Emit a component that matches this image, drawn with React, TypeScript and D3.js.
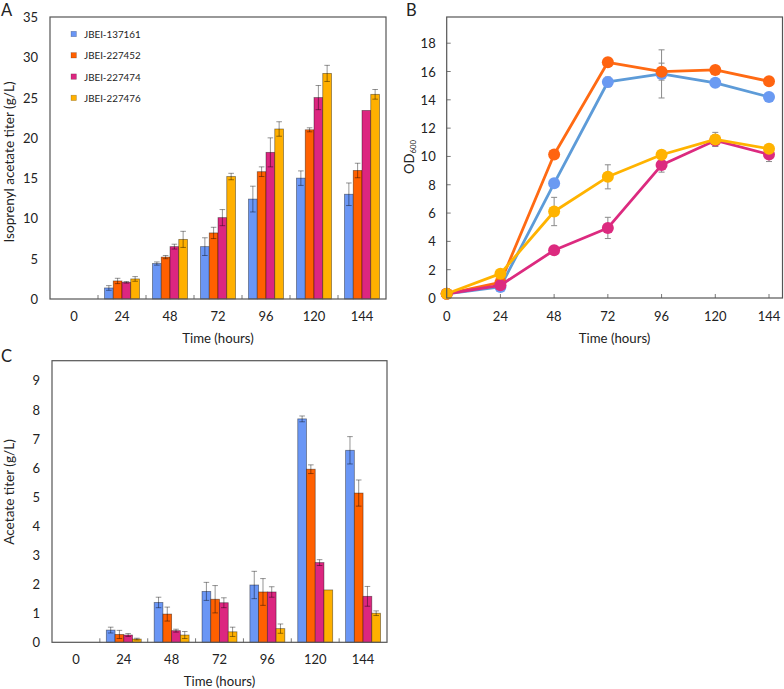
import React from "react";
import * as d3 from "d3";

const categories = ["0", "24", "48", "72", "96", "120", "144"];
const series = ["JBEI-137161", "JBEI-227452", "JBEI-227474", "JBEI-227476"];
const barColors = ["#6a96f5", "#ff6000", "#dc2680", "#ffb000"];
const lineColors = ["#5d9bd8", "#ff6a13", "#dc2a7f", "#ffb300"];
const markerColors = ["#6a9af2", "#ff6410", "#dc2a7f", "#ffb300"];

// Panel A: isoprenyl acetate titer (g/L)
const isoVals = [
  [0, 1.37, 4.4, 6.5, 12.4, 15.0, 13.0],
  [0, 2.24, 5.2, 8.2, 15.8, 21.0, 15.95],
  [0, 2.07, 6.5, 10.1, 18.2, 25.0, 23.4],
  [0, 2.49, 7.4, 15.2, 21.1, 28.0, 25.4],
];
const isoErr = [
  [0, 0.29, 0.2, 1.1, 1.6, 0.9, 1.4],
  [0, 0.33, 0.2, 0.7, 0.6, 0.25, 0.9],
  [0, 0.1, 0.3, 1.0, 1.8, 1.5, 0],
  [0, 0.29, 1.0, 0.4, 0.9, 1.0, 0.6],
];
const isoTicks = [0, 5, 10, 15, 20, 25, 30, 35];

// Panel B: OD600
const odVals = [
  [0.3, 0.78, 8.1, 15.26, 15.83, 15.2, 14.2],
  [0.3, 1.1, 10.14, 16.65, 15.99, 16.11, 15.31],
  [0.3, 0.9, 3.37, 4.95, 9.39, 11.13, 10.14],
  [0.3, 1.72, 6.11, 8.56, 10.12, 11.2, 10.54],
];
const odErr = [
  [0, 0.05, 0, 0.35, 1.7, 0.1, 0.1],
  [0, 0.1, 0.1, 0.1, 0.6, 0.1, 0.1],
  [0, 0.1, 0.1, 0.75, 0.5, 0.4, 0.5],
  [0, 0.1, 1.0, 0.85, 0.1, 0.5, 0.3],
];
const odTicks = [0, 2, 4, 6, 8, 10, 12, 14, 16, 18];

// Panel C: acetate titer (g/L)
const aceVals = [
  [0, 0.42, 1.37, 1.75, 1.97, 7.68, 6.6],
  [0, 0.27, 0.97, 1.48, 1.73, 5.95, 5.13],
  [0, 0.25, 0.4, 1.36, 1.73, 2.74, 1.58],
  [0, 0.11, 0.25, 0.36, 0.47, 1.8, 1.0],
];
const aceErr = [
  [0, 0.1, 0.18, 0.31, 0.47, 0.1, 0.47],
  [0, 0.14, 0.24, 0.47, 0.46, 0.15, 0.45],
  [0, 0.05, 0.05, 0.17, 0.18, 0.1, 0.34],
  [0, 0.03, 0.12, 0.16, 0.16, 0.0, 0.08],
];
const aceTicks = [0, 1, 2, 3, 4, 5, 6, 7, 8, 9];

const FONT = "Lato, 'Open Sans', sans-serif";
const TXT = "#222";
const FRAME = "#555";

type BarProps = {
  x0: number; x1: number; yTop: number; yBot: number; ymax: number;
  vals: number[][]; errs: number[][]; ticks: number[]; yLabel: string;
  yLabelY: number; legend?: boolean;
};

function BarPanel({ x0, x1, yTop, yBot, ymax, vals, errs, ticks, yLabel, yLabelY, legend }: BarProps) {
  const x = d3.scaleBand<string>().domain(categories).range([x0, x1]).padding(0);
  const bw = x.bandwidth();
  const inner = d3.scaleBand<string>().domain(series).range([bw * 0.135, bw * 0.865]).padding(0);
  const y = d3.scaleLinear().domain([0, ymax]).range([yBot, yTop]);
  const errColor = "rgba(0,0,0,0.42)";
  return (
    <g fontFamily={FONT}>
      {series.map((s, si) =>
        categories.map((c, ci) => {
          const v = vals[si][ci];
          if (v <= 0) return null;
          const bx = (x(c) as number) + (inner(s) as number);
          const w = inner.bandwidth();
          return (
            <rect key={s + c} x={bx} y={y(v)} width={w} height={y(0) - y(v)}
              fill={barColors[si]} stroke="rgba(0,0,0,0.45)" strokeWidth={0.8} />
          );
        })
      )}
      {series.map((s, si) =>
        categories.map((c, ci) => {
          const v = vals[si][ci];
          const e = errs[si][ci];
          if (v <= 0 || e <= 0) return null;
          const cx = (x(c) as number) + (inner(s) as number) + inner.bandwidth() / 2;
          const cw = 2.8;
          return (
            <g key={"e" + s + c} stroke={errColor} strokeWidth={1}>
              <line x1={cx} x2={cx} y1={y(v - e)} y2={y(v + e)} />
              <line x1={cx - cw} x2={cx + cw} y1={y(v - e)} y2={y(v - e)} />
              <line x1={cx - cw} x2={cx + cw} y1={y(v + e)} y2={y(v + e)} />
            </g>
          );
        })
      )}
      <rect x={x0} y={yTop} width={x1 - x0} height={yBot - yTop} fill="none" stroke={FRAME} strokeWidth={1.2} />
      {categories.slice(1).map((c) => (
        <line key={"t" + c} x1={x(c) as number} x2={x(c) as number} y1={yBot} y2={yBot - 4} stroke={FRAME} strokeWidth={0.8} />
      ))}
      {ticks.map((t) => (
        <text key={"y" + t} x={x0 - 12} y={y(t)} textAnchor="end" dominantBaseline="central" fontSize={13} fill={TXT}>{t}</text>
      ))}
      {categories.map((c) => (
        <text key={"x" + c} x={(x(c) as number) + bw / 2} y={yBot + 17} textAnchor="middle" dominantBaseline="central" fontSize={13} fill={TXT}>{c}</text>
      ))}
      <text x={(x0 + x1) / 2} y={yBot + 39} textAnchor="middle" dominantBaseline="central" fontSize={13.2} fill={TXT}>Time (hours)</text>
      <text transform={`translate(9,${yLabelY}) rotate(-90)`} textAnchor="middle" dominantBaseline="central" fontSize={13.6} fill={TXT}>{yLabel}</text>
      {legend && series.map((s, si) => {
        const ly = 34 + si * 21.3;
        return (
          <g key={"l" + s}>
            <rect x={71} y={ly - 2.7} width={5.4} height={5.4} fill={barColors[si]} stroke="rgba(0,0,0,0.3)" strokeWidth={0.6} />
            <text x={84} y={ly} dominantBaseline="central" fontSize={9.8} fill={TXT}>{s}</text>
          </g>
        );
      })}
    </g>
  );
}

function LinePanel() {
  const x0 = 446.7, x1 = 782.5, yTop = 17, yBot = 298;
  const x = d3.scalePoint<string>().domain(categories).range([x0, 769]).padding(0);
  const y = d3.scaleLinear().domain([0, 19.85]).range([yBot, yTop]);
  const line = d3.line<number>().x((_, i) => x(categories[i]) as number).y((d) => y(d));
  return (
    <g fontFamily={FONT}>
      {series.map((s, si) =>
        categories.map((c, ci) => {
          const v = odVals[si][ci];
          const e = odErr[si][ci];
          if (e <= 0) return null;
          const cx = x(c) as number;
          const cw = 3;
          return (
            <g key={"e" + s + c} stroke="#8a8a8a" strokeWidth={1}>
              <line x1={cx} x2={cx} y1={y(v - e)} y2={y(v + e)} />
              <line x1={cx - cw} x2={cx + cw} y1={y(v - e)} y2={y(v - e)} />
              <line x1={cx - cw} x2={cx + cw} y1={y(v + e)} y2={y(v + e)} />
            </g>
          );
        })
      )}
      {series.map((s, si) => (
        <g key={"s" + s}>
          <path d={line(odVals[si]) as string} fill="none" stroke={lineColors[si]} strokeWidth={2.8} strokeLinejoin="round" />
          {odVals[si].map((v, i) => (
            <circle key={i} cx={x(categories[i]) as number} cy={y(v)} r={6} fill={markerColors[si]} />
          ))}
        </g>
      ))}
      <rect x={x0} y={yTop} width={x1 - x0} height={yBot - yTop} fill="none" stroke={FRAME} strokeWidth={1.2} />
      {categories.slice(1).map((c) => (
        <line key={"t" + c} x1={x(c) as number} x2={x(c) as number} y1={yBot} y2={yBot - 4} stroke={FRAME} strokeWidth={0.8} />
      ))}
      {odTicks.slice(1).map((t) => (
        <line key={"yt" + t} x1={x0} x2={x0 + 4} y1={y(t)} y2={y(t)} stroke={FRAME} strokeWidth={0.8} />
      ))}
      {odTicks.map((t) => (
        <text key={"y" + t} x={x0 - 11} y={y(t)} textAnchor="end" dominantBaseline="central" fontSize={13} fill={TXT}>{t}</text>
      ))}
      {categories.map((c) => (
        <text key={"x" + c} x={x(c) as number} y={yBot + 18} textAnchor="middle" dominantBaseline="central" fontSize={13} fill={TXT}>{c}</text>
      ))}
      <text x={(x0 + x1) / 2} y={yBot + 40} textAnchor="middle" dominantBaseline="central" fontSize={13.2} fill={TXT}>Time (hours)</text>
      <text transform={`translate(409,157) rotate(-90)`} textAnchor="middle" dominantBaseline="central" fontSize={13.2} fill={TXT}>
        OD<tspan fontSize={7.8} dy={4}>600</tspan>
      </text>
    </g>
  );
}

export default function App() {
  return (
    <div style={{ position: "absolute", left: 0, top: 0 }}>
      <svg width={784} height={689} style={{ display: "block", background: "#fff" }}>
        <BarPanel x0={50} x1={386} yTop={17} yBot={299} ymax={35} vals={isoVals} errs={isoErr}
          ticks={isoTicks} yLabel="Isoprenyl acetate titer (g/L)" yLabelY={162} legend />
        <LinePanel />
        <BarPanel x0={52} x1={387} yTop={360.7} yBot={642.3} ymax={9.68} vals={aceVals} errs={aceErr}
          ticks={aceTicks} yLabel="Acetate titer (g/L)" yLabelY={492} />
        <g fontFamily={FONT} fill={TXT} fontSize={16.5}>
          <text x={1} y={16}>A</text>
          <text x={406} y={16}>B</text>
          <text x={1} y={362}>C</text>
        </g>
      </svg>
    </div>
  );
}
